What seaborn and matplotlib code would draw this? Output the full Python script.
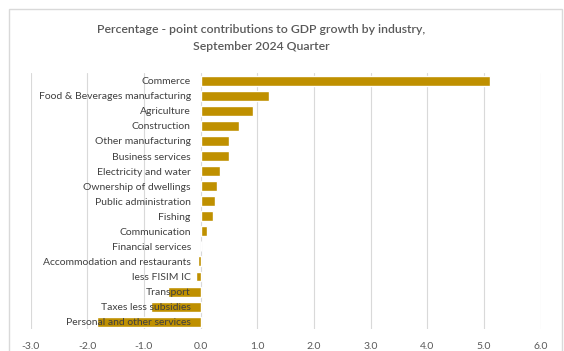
import matplotlib
matplotlib.use("Agg")
import matplotlib.pyplot as plt
import seaborn as sns
import pandas as pd
from matplotlib.patches import Rectangle

industries = [
    "Commerce",
    "Food & Beverages manufacturing",
    "Agriculture",
    "Construction",
    "Other manufacturing",
    "Business services",
    "Electricity and water",
    "Ownership of dwellings",
    "Public administration",
    "Fishing",
    "Communication",
    "Financial services",
    "Accommodation and restaurants",
    "less FISIM IC",
    "Transport",
    "Taxes less subsidies",
    "Personal and other services",
]
contributions = [5.10, 1.20, 0.93, 0.68, 0.50, 0.50, 0.35, 0.29, 0.25, 0.22,
                 0.11, 0.00, -0.05, -0.08, -0.57, -0.88, -1.82]
x_ticks = [-3.0, -2.0, -1.0, 0.0, 1.0, 2.0, 3.0, 4.0, 5.0, 6.0]

title = "Percentage - point contributions to GDP growth by industry,\nSeptember 2024 Quarter"

sns.set_theme(style="white")
plt.rcParams["font.family"] = ["Lato", "DejaVu Sans"]

text_color = "#404040"
bar_color = "#BF9000"
grid_color = "#D9D9D9"

df = pd.DataFrame({"industry": industries, "value": contributions})

fig = plt.figure(figsize=(5.64, 3.51), dpi=100)
ax = fig.add_axes([0.0541, 0.0621, 0.9046, 0.7294])

sns.barplot(data=df, x="value", y="industry", orient="h", color=bar_color,
            saturation=1, width=0.66, ax=ax)

ax.set_xlim(-3, 6)
ax.set_ylim(len(industries) - 0.5, -0.5)
ax.set_xticks(x_ticks)
ax.set_xticklabels([f"{t:.1f}" for t in x_ticks], color="#595959", fontsize=7.5)
ax.grid(axis="x", color=grid_color, linewidth=0.8)
ax.grid(axis="y", visible=False)
ax.set_axisbelow(True)
ax.set_xlabel("")
ax.set_ylabel("")
for side in ["top", "right", "bottom", "left"]:
    ax.spines[side].set_visible(False)

# category labels sit beside the zero line, drawn over the bars
ax.spines["left"].set_position(("data", 0))
ax.tick_params(axis="y", length=0, pad=7, labelsize=7.5, labelcolor=text_color)
ax.tick_params(axis="x", length=0, pad=9)
ax.yaxis.set_zorder(5)

fig.text(0.463, 0.892, title, ha="center", va="center", fontsize=8.8,
         fontweight="semibold", color="#595959", linespacing=1.75)

fig.add_artist(Rectangle((9 / 564, -0.02), (562 - 9) / 564, 1 - 9 / 351 + 0.02,
                         transform=fig.transFigure, fill=False,
                         edgecolor="#D9D9D9", linewidth=1.0))

fig.savefig("out.png", dpi=100)
